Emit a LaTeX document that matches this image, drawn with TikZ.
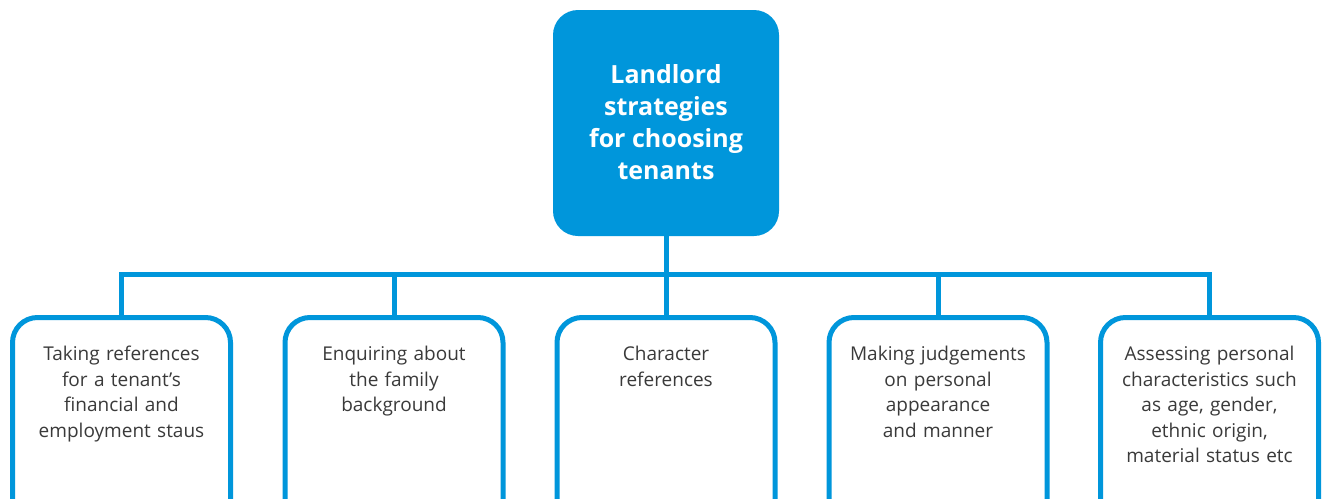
\documentclass[tikz,border=0pt]{standalone}
\usepackage{fontspec}
\setmainfont{Open Sans}
\definecolor{tblue}{HTML}{0096DB}
\definecolor{tgray}{HTML}{3A3A3A}
\begin{document}
\begin{tikzpicture}[x=1pt,y=-1pt,
  rootbox/.style={fill=tblue, draw=none, rounded corners=25pt, minimum width=226pt, minimum height=226pt, inner sep=0pt},
  leafbox/.style={draw=tblue, line width=5pt, rounded corners=25pt, minimum width=218pt, minimum height=212.5pt, inner sep=0pt, fill=white},
  leaftext/.style={anchor=north, align=center, text width=215pt, text=tgray, font=\fontsize{19pt}{25.5pt}\selectfont, inner sep=0pt},
  link/.style={draw=tblue, line width=5pt}
]
\useasboundingbox (0,0) rectangle (1322,498);
\clip (0,0) rectangle (1322,498);
\fill[white] (0,0) rectangle (1322,498);
\node[rootbox] (root) at (666,123) {};
\node[align=center, text=white, font=\bfseries\fontsize{25pt}{32pt}\selectfont] (roottext) at ([yshift=1pt]root.center) {Landlord\\strategies\\for choosing\\tenants};
\node[leafbox] (b1) at (121.5,423.75) {};
\node[leafbox] (b2) at (394,423.75) {};
\node[leafbox] (b3) at (666,423.75) {};
\node[leafbox] (b4) at (938,423.75) {};
\node[leafbox] (b5) at (1209.5,423.75) {};
\coordinate (bus) at (666,274);
\draw[link] (root.south) -- (bus);
\foreach \b in {b1,b2,b3,b4,b5}{
  \draw[link] (bus) -| (\b.north);
}
\node[leaftext] (t1) at ([yshift=-31pt]b1.north) {Taking references\\for a tenant’s\\financial and\\employment staus};
\node[leaftext] (t2) at ([yshift=-31pt]b2.north) {Enquiring about\\the family\\background};
\node[leaftext] (t3) at ([yshift=-31pt]b3.north) {Character\\references};
\node[leaftext] (t4) at ([yshift=-31pt]b4.north) {Making judgements\\on personal\\appearance\\and manner};
\node[leaftext] (t5) at ([yshift=-31pt]b5.north) {Assessing personal\\characteristics such\\as age, gender,\\ethnic origin,\\material status etc};
\end{tikzpicture}
\end{document}
